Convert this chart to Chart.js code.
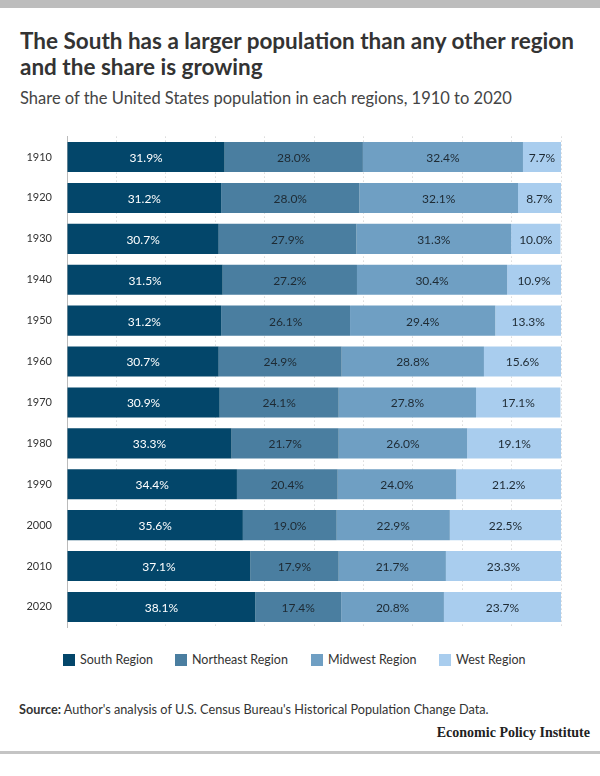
<!DOCTYPE html>
<html>
<head>
<meta charset="utf-8">
<script src="https://cdn.jsdelivr.net/npm/chart.js@4"></script>
<style>
  html,body{margin:0;padding:0;background:#fff;}
  body{width:600px;height:776px;position:relative;overflow:hidden;font-family:Lato,"Open Sans",sans-serif;color:#333;}
  #topbar{position:absolute;left:0;top:0;width:600px;height:8px;background:#bdbdbd;}
  #bottombar{position:absolute;left:0;top:751px;width:600px;height:3px;background:#c4c4c4;}
  #title{position:absolute;left:20px;top:28px;font-size:22.5px;font-weight:700;line-height:26px;color:#333;white-space:nowrap;}
  #subtitle{position:absolute;left:20px;top:88px;font-size:16.5px;color:#444;white-space:nowrap;}
  #chartwrap{position:absolute;left:0;top:115px;width:600px;height:534px;}
  #legend{position:absolute;top:652px;left:0;width:600px;height:16px;font-size:12.5px;color:#333;}
  .li{position:absolute;top:0;white-space:nowrap;line-height:16px;}
  .sw{display:inline-block;width:12px;height:12px;vertical-align:-2px;margin-right:5px;}
  #source{position:absolute;left:19px;top:701px;font-size:12.7px;color:#333;white-space:nowrap;}
  #logo{position:absolute;right:10px;top:725px;font-family:"Liberation Serif","DejaVu Serif",serif;font-weight:700;font-size:14px;color:#222;white-space:nowrap;}
</style>
</head>
<body>
<div id="topbar"></div>
<div id="title">The South has a larger population than any other region<br>and the share is growing</div>
<div id="subtitle">Share of the United States population in each regions, 1910 to 2020</div>
<div id="chartwrap"><canvas id="c" width="600" height="534"></canvas></div>
<div id="legend"></div>
<div id="source"><b>Source:</b> Author's analysis of U.S. Census Bureau's Historical Population Change Data.</div>
<div id="logo">Economic Policy Institute</div>
<div id="bottombar"></div>
<script>
const years = ["1910","1920","1930","1940","1950","1960","1970","1980","1990","2000","2010","2020"];
const seriesNames = ["South Region","Northeast Region","Midwest Region","West Region"];
const south     = [31.9,31.2,30.7,31.5,31.2,30.7,30.9,33.3,34.4,35.6,37.1,38.1];
const northeast = [28.0,28.0,27.9,27.2,26.1,24.9,24.1,21.7,20.4,19.0,17.9,17.4];
const midwest   = [32.4,32.1,31.3,30.4,29.4,28.8,27.8,26.0,24.0,22.9,21.7,20.8];
const west      = [7.7,8.7,10.0,10.9,13.3,15.6,17.1,19.1,21.2,22.5,23.3,23.7];
const colors = ["#03466a","#4a7ea0","#6f9fc3","#a9cdee"];
const labelColors = ["#ffffff","#1e2a33","#1e2a33","#1e2a33"];
const values = [south,northeast,midwest,west];

const legendPos = [63,175,311,439];
const lg = document.getElementById('legend');
seriesNames.forEach((n,i)=>{
  const d=document.createElement('div');d.className='li';d.style.left=legendPos[i]+'px';
  d.innerHTML='<span class="sw" style="background:'+colors[i]+'"></span>'+n;
  lg.appendChild(d);
});

const labelPlugin = {
  id:'segLabels',
  afterDatasetsDraw(chart){
    const ctx=chart.ctx;
    ctx.save();
    ctx.font='12px Lato, "Open Sans", sans-serif';
    ctx.textAlign='center';ctx.textBaseline='middle';
    chart.data.datasets.forEach((ds,di)=>{
      const meta=chart.getDatasetMeta(di);
      meta.data.forEach((bar,i)=>{
        const p=bar.getProps(['x','y','base'],true);
        const cx=(p.x+p.base)/2;
        ctx.fillStyle=labelColors[di];
        ctx.fillText(ds.data[i].toFixed(1)+'%',cx,p.y+1);
      });
    });
    ctx.restore();
  }
};

new Chart(document.getElementById('c'),{
  type:'bar',
  data:{
    labels:years,
    datasets:values.map((v,i)=>({label:seriesNames[i],data:v,backgroundColor:colors[i],borderWidth:0,barPercentage:0.735,categoryPercentage:1.0}))
  },
  options:{
    indexAxis:'y',
    responsive:false,
    animation:false,
    layout:{autoPadding:false,padding:{top:7,bottom:3,right:39,left:0}},
    plugins:{legend:{display:false},tooltip:{enabled:false}},
    scales:{
      x:{stacked:true,min:0,max:100,
        ticks:{display:false,stepSize:10},
        grid:{color:'#c8c8c8',drawTicks:false,lineWidth:1},
        border:{display:false,dash:[1,3]}
      },
      y:{stacked:true,
        ticks:{color:'#333',font:{family:'Lato, "Open Sans", sans-serif',size:11},padding:15},
        grid:{display:false,drawTicks:false},
        border:{display:true,color:'#bbbbbb',width:1},
        afterFit(s){s.width=67;}
      }
    }
  },
  plugins:[labelPlugin]
});
</script>
</body>
</html>
